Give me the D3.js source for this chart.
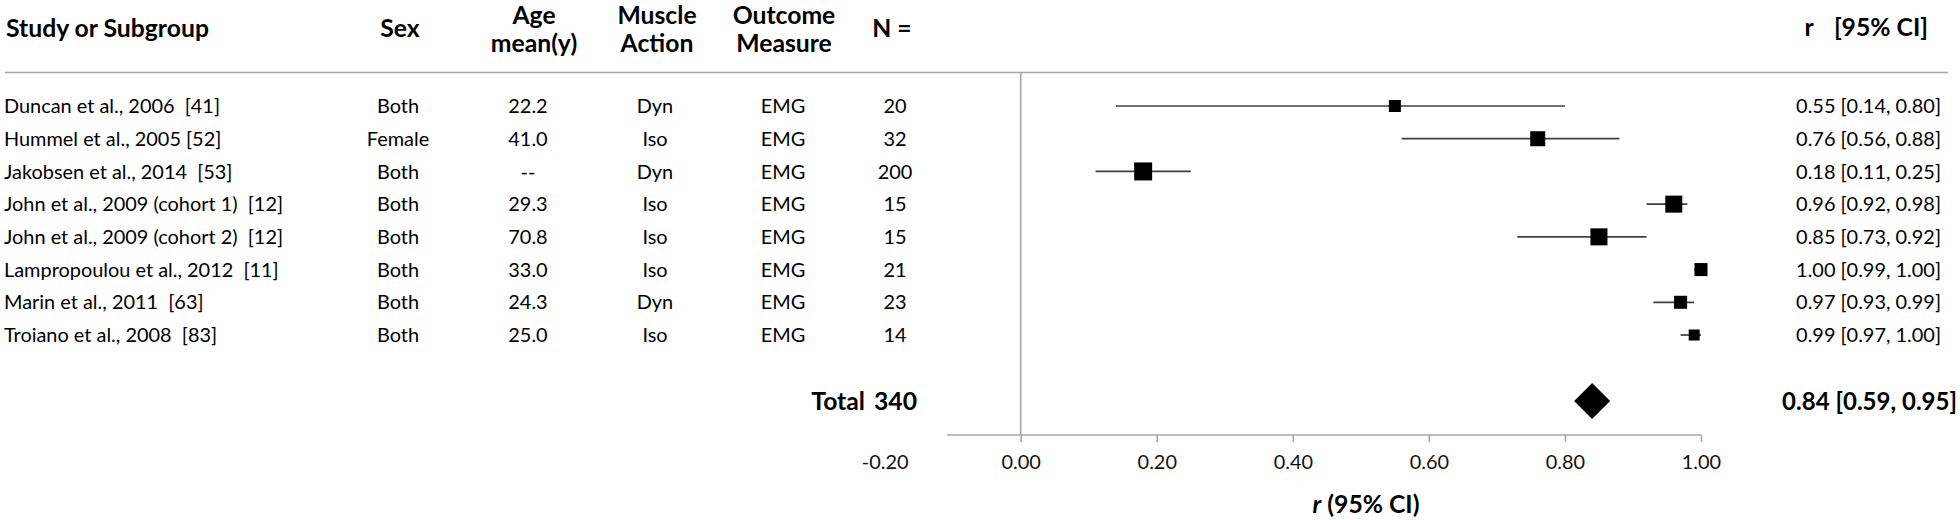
<!DOCTYPE html>
<html><head><meta charset="utf-8">
<script src="https://cdn.jsdelivr.net/npm/d3@7"></script>
<style>body{margin:0;background:#fff;} svg{display:block;}</style>
</head><body><svg id="c" width="1960" height="520"></svg>
<script>
// ---- data ----
const studies = ["Duncan et al., 2006  [41]", "Hummel et al., 2005 [52]", "Jakobsen et al., 2014  [53]",
  "John et al., 2009 (cohort 1)  [12]", "John et al., 2009 (cohort 2)  [12]", "Lampropoulou et al., 2012  [11]",
  "Marin et al., 2011  [63]", "Troiano et al., 2008  [83]"];
const sex = ["Both", "Female", "Both", "Both", "Both", "Both", "Both", "Both"];
const ageMean = ["22.2", "41.0", "--", "29.3", "70.8", "33.0", "24.3", "25.0"];
const muscleAction = ["Dyn", "Iso", "Dyn", "Iso", "Iso", "Iso", "Dyn", "Iso"];
const outcomeMeasure = ["EMG", "EMG", "EMG", "EMG", "EMG", "EMG", "EMG", "EMG"];
const nValues = [20, 32, 200, 15, 15, 21, 23, 14];
const rValues = [0.55, 0.76, 0.18, 0.96, 0.85, 1.00, 0.97, 0.99];
const ciLow = [0.14, 0.56, 0.11, 0.92, 0.73, 0.99, 0.93, 0.97];
const ciHigh = [0.80, 0.88, 0.25, 0.98, 0.92, 1.00, 0.99, 1.00];
const weights = [8.3, 13.0, 18.7, 16.7, 16.7, 9.8, 9.8, 7.0];
const totalN = 340;
const totalR = 0.84, totalLow = 0.59, totalHigh = 0.95;
const tickValues = [-0.2, 0, 0.2, 0.4, 0.6, 0.8, 1.0];
const headers = [
  {lines: ["Study or Subgroup"], col: "study"},
  {lines: ["Sex"], col: "sex"},
  {lines: ["Age", "mean(y)"], col: "age"},
  {lines: ["Muscle", "Action"], col: "action"},
  {lines: ["Outcome", "Measure"], col: "outcome"},
  {lines: ["N ="], col: "n"}
];

// ---- layout ----
const FONT = "Lato, 'Open Sans', sans-serif";
const svg = d3.select("#c");
function fit(str, weight, target) {
  const t = svg.append("text").attr("font-family", FONT).attr("font-weight", weight)
    .attr("font-size", 100).text(str);
  const w = t.node().getComputedTextLength();
  t.remove();
  return 100 * target / w;
}
const fsN = fit("0.55 [0.14, 0.80]", 400, 145);
const fsB = fit("Study or Subgroup", 700, 203);
const fsT = fit("0.84 [0.59, 0.95]", 700, 175);

const x = d3.scaleLinear().domain([0, 1]).range([1020.7, 1701]);
const y = d3.scalePoint().domain(d3.range(studies.length)).range([106, 335]);
const side = d3.scaleSqrt().domain([0, d3.max(weights)]).range([0, 18]);
const fmt = d3.formatLocale({decimal: ".", thousands: ",", grouping: [3], currency: ["", ""], minus: "-"}).format(".2f");
const ruleY = 72.5, axisY = 435, totalY = 401;
const colX = {study: 4, sex: 398, age: 528, action: 655, outcome: 783, n: 895};
const headX = {study: 6, sex: 400, age: 534, action: 657, outcome: 784, n: 892};
const dyC = "0.36em";

const g = svg.append("g").attr("font-family", FONT).attr("fill", "#000");

// header rule
g.append("line").attr("x1", 5).attr("x2", 1948).attr("y1", ruleY).attr("y2", ruleY)
  .attr("stroke", "#a6a6a6").attr("stroke-width", 1.6);

// headers
headers.forEach(h => {
  const ys = h.lines.length === 1 ? [28] : [15, 43];
  h.lines.forEach((ln, i) => {
    g.append("text").attr("x", headX[h.col]).attr("y", ys[i]).attr("dy", dyC)
      .attr("text-anchor", h.col === "study" ? "start" : "middle")
      .attr("font-weight", 700).attr("font-size", fsB).text(ln);
  });
});
g.append("text").attr("x", 1809).attr("y", 27).attr("dy", dyC).attr("text-anchor", "middle")
  .attr("font-weight", 700).attr("font-size", fsB).text("r");
g.append("text").attr("x", 1928).attr("y", 27).attr("dy", dyC).attr("text-anchor", "end")
  .attr("font-weight", 700).attr("font-size", fsB).text("[95% CI]");

// table columns
const cols = [
  {key: "study", vals: studies, anchor: "start"},
  {key: "sex", vals: sex, anchor: "middle"},
  {key: "age", vals: ageMean, anchor: "middle"},
  {key: "action", vals: muscleAction, anchor: "middle"},
  {key: "outcome", vals: outcomeMeasure, anchor: "middle"},
  {key: "n", vals: nValues, anchor: "middle"}
];
cols.forEach(c => {
  g.selectAll(null).data(c.vals).join("text")
    .attr("x", colX[c.key]).attr("y", (d, i) => y(i)).attr("dy", dyC)
    .attr("text-anchor", c.anchor).attr("font-size", fsN)
    .style("white-space", "pre").text(d => d);
});
g.selectAll(null).data(rValues).join("text")
  .attr("x", 1941).attr("y", (d, i) => y(i)).attr("dy", dyC).attr("text-anchor", "end")
  .attr("font-size", fsN).text((d, i) => `${fmt(d)} [${fmt(ciLow[i])}, ${fmt(ciHigh[i])}]`);

// total row
g.append("text").attr("x", 865).attr("y", totalY).attr("dy", dyC).attr("text-anchor", "end")
  .attr("font-weight", 700).attr("font-size", fsB).text("Total");
g.append("text").attr("x", 917).attr("y", totalY).attr("dy", dyC).attr("text-anchor", "end")
  .attr("font-weight", 700).attr("font-size", fsB).text(totalN);
g.append("text").attr("x", 1957).attr("y", totalY).attr("dy", dyC).attr("text-anchor", "end")
  .attr("font-weight", 700).attr("font-size", fsT)
  .text(`${fmt(totalR)} [${fmt(totalLow)}, ${fmt(totalHigh)}]`);

// zero line
g.append("line").attr("x1", x(0)).attr("x2", x(0)).attr("y1", ruleY).attr("y2", axisY)
  .attr("stroke", "#a6a6a6").attr("stroke-width", 1.6);

// axis
g.append("line").attr("x1", 947).attr("x2", x(1)).attr("y1", axisY).attr("y2", axisY)
  .attr("stroke", "#a6a6a6").attr("stroke-width", 1.6);
const axis = d3.axisBottom(x).tickValues(tickValues).tickFormat(fmt).tickSize(7).tickPadding(0);
const ax = g.append("g").attr("transform", `translate(0,${axisY})`).call(axis);
ax.select(".domain").remove();
ax.selectAll(".tick line").attr("stroke", "#a6a6a6").attr("stroke-width", 1.6)
  .attr("display", d => d < 0 ? "none" : null);
ax.selectAll(".tick text").attr("y", 462 - axisY).attr("dy", dyC)
  .attr("font-family", FONT).attr("font-size", fsN).attr("fill", "#111");
ax.attr("font-size", null).attr("font-family", null);

// axis title
const title = g.append("text").attr("x", 1366).attr("y", 504).attr("dy", dyC)
  .attr("text-anchor", "middle").attr("font-weight", 700).attr("font-size", fsB);
title.append("tspan").attr("font-style", "italic").text("r");
title.append("tspan").text(" (95% CI)");

// CI lines
g.selectAll(null).data(rValues).join("line")
  .attr("x1", (d, i) => x(ciLow[i])).attr("x2", (d, i) => x(ciHigh[i]))
  .attr("y1", (d, i) => y(i)).attr("y2", (d, i) => y(i))
  .attr("stroke", "#404040").attr("stroke-width", 1.7);

// squares
g.selectAll(null).data(rValues).join("rect")
  .attr("x", (d, i) => x(d) - side(weights[i]) / 2)
  .attr("y", (d, i) => y(i) - side(weights[i]) / 2)
  .attr("width", (d, i) => side(weights[i])).attr("height", (d, i) => side(weights[i]))
  .attr("fill", "#000");

// summary diamond
const dx = x(totalR), hw = 18, hh = 18;
g.append("path").attr("d", `M${dx - hw},${totalY}L${dx},${totalY - hh}L${dx + hw},${totalY}L${dx},${totalY + hh}Z`)
  .attr("fill", "#000");
</script></body></html>
